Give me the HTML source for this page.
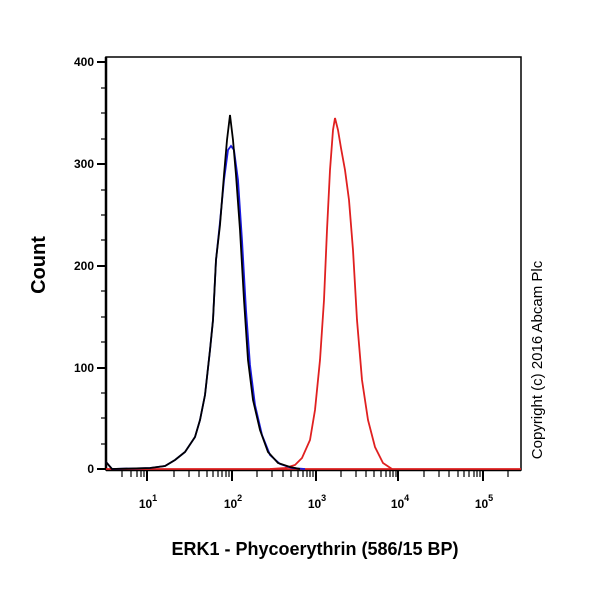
<!DOCTYPE html>
<html><head><style>body{margin:0;background:#fff}</style></head><body>
<svg width="600" height="600" xmlns="http://www.w3.org/2000/svg" font-family="Liberation Sans, Arial, sans-serif">
<rect x="106" y="57" width="415" height="413" fill="none" stroke="#000" stroke-width="1.5"/>
<line x1="106" y1="57" x2="106" y2="470" stroke="#000" stroke-width="2.5"/>
<line x1="106" y1="470" x2="521" y2="470" stroke="#000" stroke-width="2.5"/>
<g stroke="#000" stroke-width="2">
<line x1="97" y1="469" x2="106" y2="469"/><line x1="97" y1="368" x2="106" y2="368"/><line x1="97" y1="266" x2="106" y2="266"/><line x1="97" y1="164" x2="106" y2="164"/><line x1="97" y1="62" x2="106" y2="62"/>
</g>
<g stroke="#000" stroke-width="1.2">
<line x1="101" y1="444" x2="106" y2="444"/><line x1="101" y1="418" x2="106" y2="418"/><line x1="101" y1="393" x2="106" y2="393"/>
<line x1="101" y1="342" x2="106" y2="342"/><line x1="101" y1="317" x2="106" y2="317"/><line x1="101" y1="291" x2="106" y2="291"/>
<line x1="101" y1="240" x2="106" y2="240"/><line x1="101" y1="215" x2="106" y2="215"/><line x1="101" y1="190" x2="106" y2="190"/>
<line x1="101" y1="139" x2="106" y2="139"/><line x1="101" y1="113" x2="106" y2="113"/><line x1="101" y1="88" x2="106" y2="88"/>
</g>
<g font-size="12" font-weight="bold" text-anchor="end">
<text x="94" y="473">0</text><text x="94" y="372">100</text><text x="94" y="270">200</text><text x="94" y="168">300</text><text x="94" y="66">400</text>
</g>
<g stroke="#000" stroke-width="2">
<line x1="147" y1="470" x2="147" y2="481"/><line x1="232" y1="470" x2="232" y2="481"/><line x1="316" y1="470" x2="316" y2="481"/><line x1="398" y1="470" x2="398" y2="481"/><line x1="483" y1="470" x2="483" y2="481"/>
</g>
<g stroke="#000" stroke-width="1.2">
<line x1="122" y1="470" x2="122" y2="477"/><line x1="131" y1="470" x2="131" y2="477"/><line x1="137" y1="470" x2="137" y2="477"/><line x1="141" y1="470" x2="141" y2="477"/><line x1="144" y1="470" x2="144" y2="477"/>
<line x1="174" y1="470" x2="174" y2="477"/><line x1="189" y1="470" x2="189" y2="477"/><line x1="199" y1="470" x2="199" y2="477"/><line x1="207" y1="470" x2="207" y2="477"/><line x1="213" y1="470" x2="213" y2="477"/><line x1="218" y1="470" x2="218" y2="477"/><line x1="222" y1="470" x2="222" y2="477"/><line x1="226" y1="470" x2="226" y2="477"/><line x1="229" y1="470" x2="229" y2="477"/>
<line x1="257" y1="470" x2="257" y2="477"/><line x1="272" y1="470" x2="272" y2="477"/><line x1="283" y1="470" x2="283" y2="477"/><line x1="291" y1="470" x2="291" y2="477"/><line x1="298" y1="470" x2="298" y2="477"/><line x1="303" y1="470" x2="303" y2="477"/><line x1="307" y1="470" x2="307" y2="477"/><line x1="310" y1="470" x2="310" y2="477"/><line x1="313" y1="470" x2="313" y2="477"/>
<line x1="341" y1="470" x2="341" y2="477"/><line x1="356" y1="470" x2="356" y2="477"/><line x1="366" y1="470" x2="366" y2="477"/><line x1="374" y1="470" x2="374" y2="477"/><line x1="381" y1="470" x2="381" y2="477"/><line x1="386" y1="470" x2="386" y2="477"/><line x1="390" y1="470" x2="390" y2="477"/><line x1="393" y1="470" x2="393" y2="477"/><line x1="396" y1="470" x2="396" y2="477"/>
<line x1="424" y1="470" x2="424" y2="477"/><line x1="439" y1="470" x2="439" y2="477"/><line x1="449" y1="470" x2="449" y2="477"/><line x1="458" y1="470" x2="458" y2="477"/><line x1="464" y1="470" x2="464" y2="477"/><line x1="469" y1="470" x2="469" y2="477"/><line x1="474" y1="470" x2="474" y2="477"/><line x1="477" y1="470" x2="477" y2="477"/><line x1="480" y1="470" x2="480" y2="477"/>
<line x1="508" y1="470" x2="508" y2="477"/>
</g>
<g font-size="12" font-weight="bold" text-anchor="middle">
<text x="148" y="508">10<tspan dy="-7" font-size="9">1</tspan></text>
<text x="233" y="508">10<tspan dy="-7" font-size="9">2</tspan></text>
<text x="317" y="508">10<tspan dy="-7" font-size="9">3</tspan></text>
<text x="400" y="508">10<tspan dy="-7" font-size="9">4</tspan></text>
<text x="484" y="508">10<tspan dy="-7" font-size="9">5</tspan></text>
</g>
<line x1="106" y1="469" x2="521" y2="469" stroke="#e02020" stroke-width="1.8"/>
<polyline fill="none" stroke="#e02020" stroke-width="1.8" points="270,469 285,468 295,465 302,458 310,440 315,410 320,360 324,300 327,230 330,170 333,130 335,118 338,130 341,148 345,170 349,200 353,250 357,320 362,380 368,420 375,447 383,463 392,469"/>
<polyline fill="none" stroke="#1a1ae0" stroke-width="1.8" points="106,462 112,469 150,468 165,466 175,460 185,452 195,437 200,420 205,395 210,350 213,320 216,260 220,222 224,180 228,150 231,146 234,150 238,180 242,240 246,310 250,365 255,405 262,435 270,455 280,464 292,468 305,469"/>
<polyline fill="none" stroke="#000" stroke-width="1.8" points="106,462 112,469 150,468 165,466 175,460 185,452 195,437 200,420 205,395 210,350 213,320 216,260 220,225 224,175 227,140 230,115 233,140 236,175 240,230 244,300 248,360 253,400 260,430 268,452 278,463 290,467 300,469"/>
<text transform="translate(45,265) rotate(-90)" font-size="20" font-weight="bold" text-anchor="middle">Count</text>
<text x="315" y="555" font-size="18" font-weight="bold" text-anchor="middle">ERK1 - Phycoerythrin (586/15 BP)</text>
<text transform="translate(542,360) rotate(-90)" font-size="15" text-anchor="middle">Copyright (c) 2016 Abcam Plc</text>
</svg>
</body></html>
